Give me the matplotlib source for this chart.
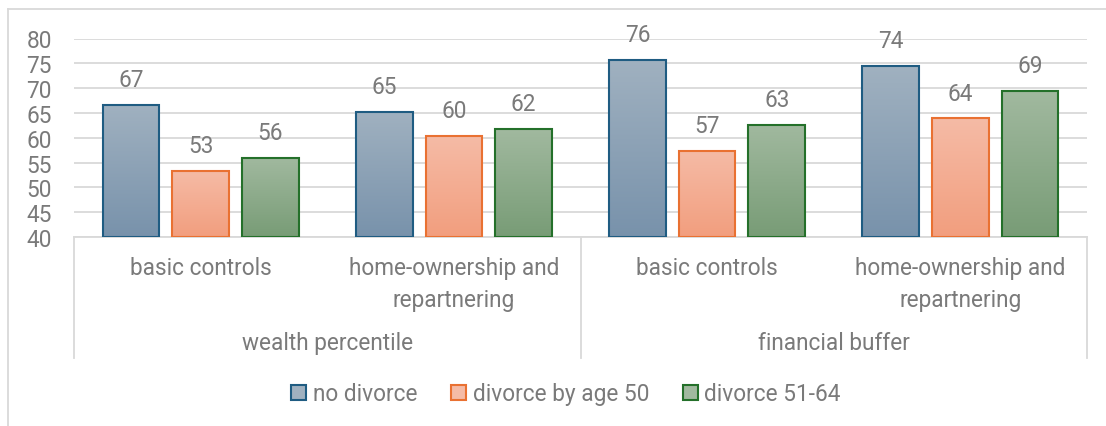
import numpy as np
import matplotlib
matplotlib.use("Agg")
import matplotlib.pyplot as plt
from matplotlib.patches import Patch
from matplotlib.lines import Line2D
from matplotlib.colors import LinearSegmentedColormap
from matplotlib.transforms import blended_transform_factory

# ---- data -------------------------------------------------------------
groups = ["wealth percentile", "financial buffer"]
controls = ["basic controls", "home-ownership and\nrepartnering"]
series_names = ["no divorce", "divorce by age 50", "divorce 51-64"]
no_divorce = [66.6, 65.2, 75.7, 74.4]
divorce_by_50 = [53.4, 60.3, 57.4, 63.9]
divorce_51_64 = [56.0, 61.7, 62.6, 69.4]
y_ticks = [40, 45, 50, 55, 60, 65, 70, 75, 80]

# ---- style ------------------------------------------------------------
W, H = 1106, 427
FONT = ["Roboto", "DejaVu Sans"]
TXT = "#7a7a7a"
GRID = "#d9d9d9"
FS = 16.3
edge_colors = ["#1f5c82", "#e97132", "#24702a"]
grad_top = ["#a0b1c0", "#f5bba6", "#a1b99f"]
grad_bot = ["#7892ab", "#f29e7e", "#789c76"]

plt.rcParams["font.family"] = FONT

fig = plt.figure(figsize=(W / 100, H / 100), dpi=100)
ax_left, ax_right = 74, 1087
ax_top, ax_bottom = 39.5, 238
ax = fig.add_axes([ax_left / W, 1 - ax_bottom / H,
                   (ax_right - ax_left) / W, (ax_bottom - ax_top) / H])

n_cat = len(no_divorce)
x = np.arange(n_cat)
width = 0.224
offsets = [-0.275, 0.0, 0.275]
series = [no_divorce, divorce_by_50, divorce_51_64]

ax.set_xlim(-0.5, n_cat - 0.5)
ax.set_ylim(y_ticks[0], y_ticks[-1])

for s, (vals, off) in enumerate(zip(series, offsets)):
    cmap = LinearSegmentedColormap.from_list(f"g{s}", [grad_bot[s], grad_top[s]])
    bars = ax.bar(x + off, [v - y_ticks[0] for v in vals], width=width,
                  bottom=y_ticks[0], facecolor="none",
                  edgecolor=edge_colors[s], linewidth=1.5, zorder=4)
    for b, v in zip(bars, vals):
        x0 = b.get_x()
        grad = np.linspace(0, 1, 256).reshape(-1, 1)
        im = ax.imshow(grad, cmap=cmap, origin="lower", aspect="auto",
                       extent=[x0, x0 + b.get_width(), y_ticks[0], v],
                       zorder=3, interpolation="bilinear")
        im.set_clip_path(b)
        ax.annotate(f"{v:.0f}", (b.get_x() + b.get_width() / 2, v),
                    xytext=(0, 10), textcoords="offset points",
                    ha="center", va="bottom", fontsize=FS, color=TXT)

ax.set_xlim(-0.5, n_cat - 0.5)
ax.set_ylim(y_ticks[0], y_ticks[-1])

# grid and axes
ax.set_yticks(y_ticks)
ax.yaxis.grid(True, color=GRID, linewidth=1.3, zorder=0)
ax.set_axisbelow(True)
for sp in ax.spines.values():
    sp.set_visible(False)
ax.tick_params(axis="y", length=0, pad=16, labelsize=FS, labelcolor=TXT)
ax.tick_params(axis="x", length=0, pad=14, labelsize=FS, labelcolor=TXT)
ax.set_xticks(x)
ax.set_xticklabels(controls * len(groups), linespacing=1.45)

# two-level category box
trans = blended_transform_factory(ax.transData, ax.transAxes)
box_depth = (359 - ax_bottom) / (ax_bottom - ax_top)
ax.plot([0, 1], [0, 0], transform=ax.transAxes, color=GRID,
        linewidth=1.3, clip_on=False, zorder=2)
per_group = n_cat // len(groups)
for k in range(len(groups) + 1):
    xs = k / len(groups)
    ax.plot([xs, xs], [0, -box_depth], transform=ax.transAxes, color=GRID,
            linewidth=1.3, clip_on=False)
for g, name in enumerate(groups):
    cx = g * per_group + (per_group - 1) / 2
    ax.text(cx, -(344 - ax_bottom) / (ax_bottom - ax_top), name,
            transform=trans, ha="center", va="center", fontsize=FS, color=TXT)

# outer chart border (top and left edges inside the frame)
bx, by = 8 / W, 1 - 10 / H
fig.add_artist(Line2D([bx, bx], [0, by], color=GRID, linewidth=1.3))
fig.add_artist(Line2D([bx, 1], [by, by], color=GRID, linewidth=1.3))

# legend
handles = [Patch(facecolor=grad_top[i], edgecolor=edge_colors[i], linewidth=1.5,
                 label=series_names[i]) for i in range(3)]
fig.legend(handles=handles, loc="center", ncol=3,
           bbox_to_anchor=(566 / W, 1 - 395 / H), frameon=False,
           fontsize=FS, labelcolor=TXT, handlelength=0.65, handleheight=0.65,
           handletextpad=0.3, columnspacing=1.5)

fig.savefig("out.png", dpi=100, facecolor="white")
